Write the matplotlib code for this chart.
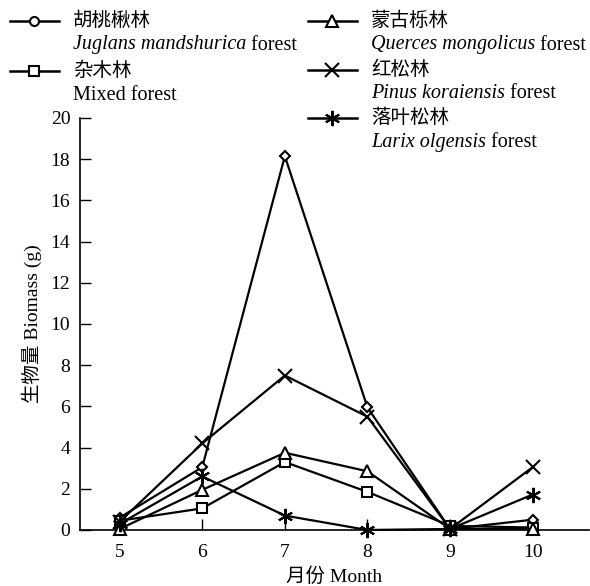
import matplotlib
matplotlib.use("agg")
import matplotlib.pyplot as plt
from matplotlib.lines import Line2D
from matplotlib import rcParams

rcParams['font.family'] = ['Liberation Serif', 'Noto Sans CJK SC']
rcParams['font.size'] = 14

months = [5, 6, 7, 8, 9, 10]

juglans = [0.6, 3.05, 18.15, 5.95, 0.05, 0.5]
mixed = [0.45, 1.05, 3.3, 1.85, 0.2, 0.12]
querces = [0.05, 1.95, 3.75, 2.85, 0.05, 0.05]
pinus = [0.4, 4.2, 7.5, 5.5, 0.05, 3.05]
larix = [0.3, 2.6, 0.7, 0.0, 0.05, 1.72]

names_cn = ["胡桃楸林", "杂木林", "蒙古栎林", "红松林", "落叶松林"]
names_it = ["Juglans mandshurica", "", "Querces mongolicus", "Pinus koraiensis", "Larix olgensis"]
names_rm = [" forest", "Mixed forest", " forest", " forest", " forest"]

series = [juglans, mixed, querces, pinus, larix]
markers = ["D", "s", "^", "x", (6, 2, 0)]
legend_markers = ["o", "s", "^", "x", (6, 2, 0)]
msizes = [5.5, 7, 8, 10, 11]

fig = plt.figure(figsize=(5.9, 5.86), dpi=100)
ax = fig.add_axes([80 / 590, 1 - 530 / 586, 1 - 80 / 590 - 0.002, (530 - 118) / 586])

for vals, mk, ms in zip(series, markers, msizes):
    ax.plot(months, vals, color="k", lw=1.6, marker=mk, ms=ms,
            mfc="white", mec="k", mew=1.5, clip_on=False, zorder=3)

ax.set_xlim(4.52, 10.68)
ax.set_ylim(0, 20)
ax.set_xticks(months)
ax.set_yticks(range(0, 21, 2))
ax.spines['top'].set_visible(False)
ax.spines['right'].set_visible(False)
ax.spines['left'].set_linewidth(1.2)
ax.spines['bottom'].set_linewidth(1.2)
ax.tick_params(direction='in', length=8, width=1, labelsize=14)
ax.tick_params(axis='x', pad=10)
ax.tick_params(axis='y', pad=7)
ax.set_xlabel("月份 Month", fontsize=14, labelpad=5)
ax.set_ylabel("生物量 Biomass (g)", fontsize=14, labelpad=6)

# legend drawn by hand: handle on the first line, italic name under it
col_x = [10, 308]
rows = [(0, 0, 21), (1, 0, 71), (2, 1, 21), (3, 1, 70), (4, 1, 118)]
for idx, col, ypix in rows:
    x0 = col_x[col]
    yf = 1 - ypix / 586
    fig.add_artist(Line2D([x0 / 590, (x0 + 49) / 590], [yf, yf], color="k", lw=1.8,
                          transform=fig.transFigure))
    fig.add_artist(Line2D([(x0 + 24) / 590], [yf], color="k", marker=legend_markers[idx],
                          ms=msizes[idx] if idx else 6.5, mfc="white", mec="k", mew=1.5,
                          transform=fig.transFigure))
    tx = (x0 + 63) / 590
    fig.text(tx, yf, names_cn[idx], ha="left", va="center", fontsize=14)
    y2 = 1 - (ypix + 24) / 586
    if names_it[idx]:
        t = fig.text(tx, y2, names_it[idx], ha="left", va="center", fontsize=14.5, style="italic")
        fig.canvas.draw()
        bb = t.get_window_extent()
        fig.text(bb.x1 / fig.bbox.width, y2, names_rm[idx], ha="left", va="center", fontsize=14.5)
    else:
        fig.text(tx, y2, names_rm[idx], ha="left", va="center", fontsize=14.5)

fig.savefig("out.png", dpi=100)
